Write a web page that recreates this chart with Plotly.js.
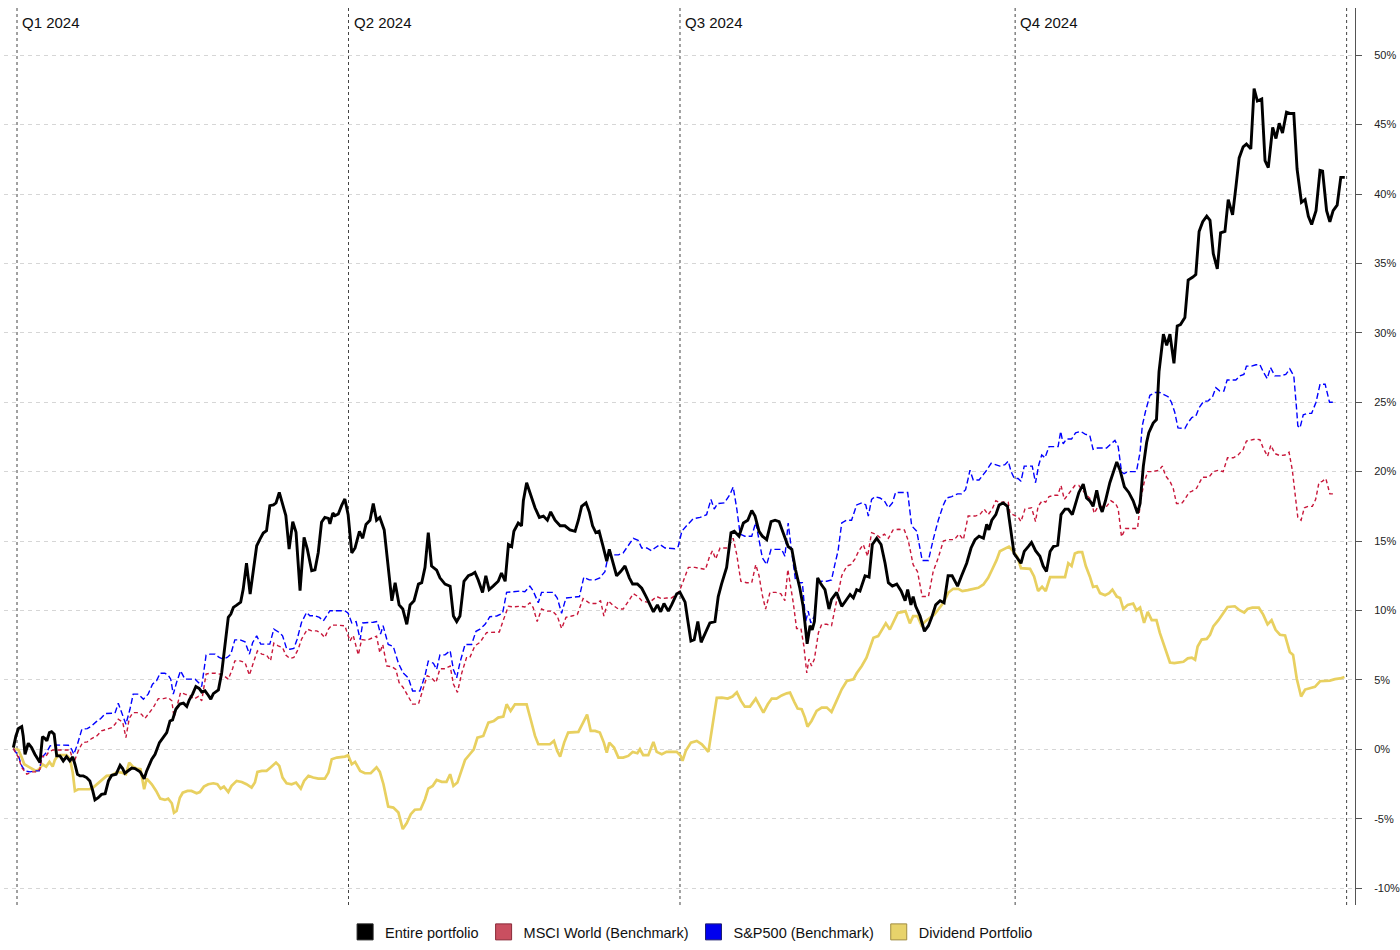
<!DOCTYPE html>
<html>
<head>
<meta charset="utf-8">
<script src="https://cdn.plot.ly/plotly-3.0.1.min.js"></script>
<style>
html,body{margin:0;padding:0;background:#fff;}
#chart{width:1400px;height:950px;}
</style>
</head>
<body>
<div id="chart"></div>
<script>
// Day offsets from 2024-01-01 (fractional days), values in percent
const seriesNames = ["Entire portfolio", "MSCI World (Benchmark)", "S&P500 (Benchmark)", "Dividend Portfolio"];

const blackDays = [-1.0,-0.3,0.4,1.3,1.7,2.2,3.1,4.0,4.9,5.9,6.3,7.0,7.7,8.2,8.9,9.5,10.2,10.9,11.8,12.7,13.6,14.5,15.3,15.9,16.6,17.3,18.2,19.1,20.0,20.8,21.4,22.3,23.2,24.2,25.1,26.0,27.2,28.3,29.0,29.6,30.6,31.5,32.4,33.8,34.9,35.6,37.0,37.9,39.1,40.2,41.1,42.0,42.7,43.6,44.7,45.7,46.6,47.3,48.2,49.1,50.0,50.7,51.6,52.5,53.2,53.9,55.3,56.2,57.1,58.0,58.7,59.4,60.3,61.4,62.1,63.0,64.0,64.9,65.8,66.7,67.6,68.5,69.4,70.4,71.1,72.0,72.9,73.8,74.7,75.7,76.6,77.7,78.8,79.7,80.9,81.8,82.7,83.6,84.5,85.5,85.9,86.7,87.3,88.2,89.1,90.0,
90.9,91.9,92.8,94.0,94.9,95.8,96.9,97.8,98.7,99.6,100.8,101.9,102.9,103.8,104.9,105.9,107.0,107.9,109.0,110.2,111.1,112.0,112.9,113.8,115.2,116.1,117.5,118.9,119.8,120.7,121.6,122.7,123.9,124.8,125.7,126.6,127.8,128.7,129.6,130.7,132.1,133.0,134.0,134.9,135.8,136.4,137.6,138.5,139.0,139.9,141.0,142.2,143.4,144.5,145.6,146.5,147.7,149.1,150.4,151.8,153.2,154.1,155.0,156.2,157.1,158.0,158.9,159.8,160.9,161.9,162.6,163.5,164.6,165.7,166.9,168.1,169.0,170.3,171.5,172.7,173.6,174.7,175.8,176.7,177.6,178.8,179.7,181.1,182.0,183.4,
184.1,185.0,185.9,186.9,187.8,188.9,190.2,191.6,192.5,193.4,194.8,196.0,196.9,198.2,199.4,200.6,201.7,202.6,203.7,204.6,205.8,207.0,208.1,209.2,210.3,211.7,212.7,213.7,214.9,215.8,216.3,216.9,217.7,218.3,218.9,219.8,220.7,221.8,222.9,223.6,225.0,226.4,227.5,228.7,229.6,230.5,231.4,232.8,233.9,234.8,236.0,237.2,238.3,239.2,240.3,241.5,242.7,243.8,244.5,245.4,246.0,246.7,247.9,249.1,250.2,251.1,252.2,253.4,254.5,255.6,256.7,258.2,259.3,260.7,261.9,263.0,264.1,265.3,266.2,266.8,267.6,268.7,269.6,270.7,271.9,273.0,273.7,
275.6,276.5,277.6,278.5,279.6,280.8,281.7,282.6,283.6,284.5,285.7,286.6,287.7,288.6,289.7,290.6,291.5,292.7,293.6,294.5,295.4,296.4,297.3,297.9,298.8,300.0,300.9,301.9,302.8,304.0,305.2,306.4,307.6,308.3,309.2,310.1,310.7,311.9,312.8,
313.5,314.7,315.6,316.5,317.6,318.5,319.4,320.6,321.5,322.7,323.6,324.5,325.5,326.6,327.5,328.4,329.5,330.4,331.6,332.5,333.7,334.6,335.5,336.6,337.5,338.7,339.6,340.5,341.7,342.6,343.5,344.7,345.6,346.5,347.4,348.5,349.6,350.5,351.4,352.6,353.6,354.5,355.4,356.6,357.7,358.4,359.5,360.4,361.3,362.4,363.4,364.5];
const blackVals = [0.12,0.96,1.49,1.63,0.96,-0.36,0.43,0.12,-0.36,-0.84,-0.96,0.91,0.77,0.6,1.2,1.27,1.08,-0.48,-0.48,-0.84,-0.53,-0.84,-0.55,-1.08,-1.8,-1.92,-1.92,-2.04,-2.28,-3.0,-3.65,-3.49,-3.25,-3.2,-2.28,-1.88,-1.8,-1.15,-1.39,-1.73,-1.56,-1.35,-1.39,-1.63,-2.12,-1.56,-0.72,-0.36,0.48,0.91,1.2,2.04,2.12,2.88,3.25,3.32,3.08,3.56,3.97,4.52,4.38,4.13,4.21,3.89,3.61,4.01,4.28,5.53,7.33,9.5,9.74,10.22,10.38,10.6,11.54,13.41,11.18,12.74,14.66,15.14,15.58,15.75,17.55,17.6,17.74,18.5,17.67,16.83,14.42,16.39,15.63,11.42,15.26,14.42,12.86,12.93,14.18,16.35,16.7,16.63,16.23,17.02,16.83,16.95,17.55,18.03,
16.9,14.15,14.5,15.7,15.2,16.2,16.5,17.7,16.5,16.7,15.8,12.9,10.7,12.0,10.4,10.1,9.0,10.4,10.7,11.9,12.0,13.1,15.6,13.2,12.9,12.35,11.9,11.75,9.6,9.2,9.6,12.1,12.5,12.6,12.75,12.2,11.3,12.5,11.5,11.75,12.1,12.7,12.1,14.75,14.6,15.7,16.3,16.1,17.9,19.2,18.3,17.4,16.7,16.8,16.5,17.1,16.5,16.1,16.1,15.8,15.7,16.5,17.5,17.75,17.1,16.1,15.6,15.7,14.6,13.55,14.4,13.55,12.5,12.8,13.2,12.35,11.9,11.9,11.6,11.0,10.55,9.9,10.4,9.9,10.5,9.95,10.4,11.2,11.3,10.6,
9.35,7.8,7.9,9.2,7.7,8.4,9.1,9.2,11.0,11.9,13.1,15.6,15.7,15.35,16.3,16.5,17.2,16.8,15.7,15.35,15.1,16.4,16.5,16.4,15.6,14.6,14.4,12.95,11.6,10.3,9.1,7.6,8.9,8.6,9.2,12.35,11.9,11.5,10.1,10.8,11.3,10.3,10.7,11.15,10.9,11.5,11.4,12.5,12.4,14.75,15.2,14.75,13.4,12.0,11.75,11.9,11.4,10.7,11.5,10.4,11.0,10.3,9.6,8.5,8.9,9.5,10.4,10.7,10.55,12.5,12.5,11.75,12.5,13.4,14.5,15.1,15.35,15.2,16.2,15.8,16.5,16.9,17.6,17.75,17.5,15.35,14.1,
13.4,14.25,14.6,14.9,14.3,13.9,13.2,12.8,14.25,14.6,14.7,16.9,17.3,17.3,16.9,17.7,18.5,19.1,18.1,17.9,17.5,18.65,17.5,17.1,17.9,19.2,20.0,20.7,20.1,18.9,18.5,17.9,17.0,17.7,20.4,22.1,22.8,23.5,23.75,
27.2,29.9,29.1,29.9,27.8,30.5,30.6,31.1,33.8,34.0,34.2,37.3,38.0,38.4,38.1,35.7,34.6,37.2,37.3,39.6,38.5,40.5,42.6,43.4,43.6,43.25,47.6,46.7,46.85,42.4,41.9,44.8,44.0,45.1,44.4,45.9,45.8,45.8,41.8,39.4,39.6,38.4,37.8,38.8,41.7,41.65,38.8,38.0,38.8,39.2,41.2,41.2];

const msciDays = [-1.0,0.4,1.3,2.7,4.0,5.4,6.3,6.8,7.7,8.6,9.8,11.3,13.2,14.5,15.6,16.8,18.0,19.3,20.5,21.9,23.2,24.6,26.0,26.9,27.8,29.0,29.9,30.8,31.8,33.0,34.2,35.1,36.3,37.4,38.8,40.2,41.5,42.5,43.1,44.0,44.9,46.1,47.5,48.6,49.8,50.7,51.9,53.0,54.4,55.7,56.8,58.0,59.2,59.8,61.2,62.6,63.8,64.9,66.0,67.2,68.5,69.6,70.5,71.7,72.9,73.8,74.9,76.0,77.2,78.1,79.7,80.9,82.3,83.4,84.5,85.5,86.4,88.2,90.0,
91.4,92.3,93.7,94.6,96.0,97.4,98.7,99.6,100.4,101.5,102.9,104.0,104.9,106.0,107.4,108.6,110.2,111.4,112.6,113.8,115.0,116.1,117.5,118.9,119.8,120.9,122.1,123.4,124.3,125.7,127.1,128.9,130.7,132.4,133.5,134.9,136.2,138.1,139.4,140.8,141.7,142.8,144.0,145.4,147.0,148.3,149.5,150.7,152.3,153.8,155.4,157.3,158.9,160.2,161.1,162.3,163.7,165.1,166.4,167.8,169.2,170.5,171.5,172.9,174.2,175.6,177.0,178.3,179.7,181.1,182.0,182.9,184.3,186.1,187.5,189.0,190.0,190.9,191.8,193.0,194.8,196.0,196.6,197.6,198.7,200.3,201.7,202.8,203.7,204.6,205.5,206.7,208.3,209.7,210.8,211.6,212.2,213.1,214.0,215.2,216.0,216.8,217.4,218.1,218.9,220.0,220.9,222.3,223.6,225.0,226.4,227.8,228.9,230.0,231.1,232.3,233.5,234.6,235.7,236.9,238.1,239.2,240.5,242.1,243.6,244.7,246.0,247.2,248.5,250.2,251.5,252.9,254.3,255.6,257.3,258.6,259.8,261.1,263.0,264.3,265.5,266.6,267.7,268.7,269.6,270.7,272.1,272.6,273.5,274.9,275.6,276.7,278.5,279.6,280.3,281.4,282.4,283.3,284.7,285.7,286.6,287.5,288.4,289.5,290.4,291.5,292.4,293.6,294.8,295.7,296.8,299.1,300.3,301.6,302.3,303.2,304.3,306.7,307.6,308.5,309.4,310.4,311.8,313.5,314.4,315.3,316.5,317.4,318.3,319.7,320.6,321.7,322.6,323.8,325.4,327.2,328.4,329.8,331.1,332.3,333.9,335.2,336.6,337.5,338.9,340.0,341.2,342.1,343.3,344.2,345.3,346.7,348.1,349.2,350.1,350.8,351.6,352.5,353.4,354.5,355.6,356.5,357.4,358.3,359.3,360.4,361.6];
const msciVals = [0.05,-0.6,-1.32,-1.8,-1.63,-1.63,-1.44,-0.48,-0.6,-0.24,-0.05,-0.05,-0.05,-0.05,-0.96,-0.12,0.48,0.53,0.77,0.96,1.32,1.44,1.56,1.8,2.16,1.97,0.84,2.21,2.64,2.64,2.52,2.21,2.64,3.0,3.65,3.65,3.73,3.49,2.28,3.13,4.09,3.97,3.85,3.61,3.8,3.49,5.41,5.48,5.48,5.41,5.29,5.05,5.82,6.37,6.37,6.25,5.34,6.25,7.09,6.85,6.78,6.37,7.64,7.45,7.33,6.78,6.54,6.61,7.21,7.93,8.65,8.53,8.53,8.37,8.05,8.65,8.94,8.94,8.89,
7.8,8.2,6.8,7.9,7.85,8.0,8.15,6.95,7.55,6.0,5.95,5.75,4.8,4.45,3.85,3.25,3.25,4.2,5.3,5.15,4.8,5.8,5.8,6.0,4.7,4.1,5.5,6.6,6.6,7.45,7.7,8.4,8.45,8.45,9.3,10.3,10.25,10.3,10.25,10.55,10.2,9.2,10.1,9.95,9.95,9.6,8.7,9.5,9.6,9.7,10.85,10.5,10.5,10.7,9.6,10.7,10.35,10.1,10.1,10.7,11.2,11.0,10.7,10.6,10.7,11.0,10.85,10.9,10.9,11.15,11.5,12.1,13.1,13.1,13.05,12.95,13.8,14.3,13.7,14.5,14.5,14.9,15.2,14.0,12.1,12.0,12.0,13.3,12.5,11.1,10.1,11.3,11.3,11.2,10.7,12.95,12.0,10.55,8.7,8.7,7.45,5.5,6.5,6.0,6.5,8.4,9.0,9.0,8.9,10.7,12.5,13.2,13.3,13.7,14.3,14.75,13.9,15.6,15.5,15.25,15.5,15.2,15.8,15.85,15.8,15.0,13.3,12.8,11.0,11.0,12.8,13.8,15.0,15.1,15.1,15.5,15.1,16.8,16.8,16.9,17.3,16.9,17.3,17.9,17.8,17.8,17.8,17.0,16.9,16.7,16.4,17.3,17.4,16.4,17.5,17.9,17.8,18.2,18.3,18.3,19.0,18.0,18.3,18.7,19.0,19.0,18.7,18.3,18.0,17.0,17.5,17.5,17.9,17.7,17.3,15.3,15.9,15.9,15.9,18.0,19.2,20.0,20.0,20.1,20.4,19.7,19.3,18.8,17.7,17.7,18.0,18.5,18.6,18.8,19.6,19.6,20.0,20.1,20.0,21.0,21.0,21.2,21.6,22.2,22.3,22.35,22.3,21.7,21.1,21.9,21.3,21.15,21.2,21.4,20.1,18.5,16.7,16.5,17.4,17.5,17.5,18.0,19.2,19.3,19.5,18.4,18.4];

const spDays = [-1.0,0.4,1.3,2.2,3.6,4.9,6.1,6.8,8.2,9.1,10.0,11.3,12.7,14.1,15.0,15.6,16.6,17.8,19.3,20.5,21.7,23.0,24.2,25.5,26.9,27.8,28.7,29.9,31.0,31.9,33.3,34.7,36.0,37.2,38.3,39.3,40.6,41.5,42.2,42.9,43.8,44.9,46.1,47.5,48.9,50.0,50.7,51.9,53.0,54.4,55.5,56.6,57.7,58.7,59.8,61.2,62.6,63.8,64.7,65.8,66.9,68.1,69.4,70.5,72.0,72.9,74.0,74.9,76.0,76.9,78.1,79.5,80.4,81.8,83.0,84.1,85.0,85.9,87.8,90.0,
90.9,91.9,93.1,94.2,94.9,96.4,97.8,98.9,99.8,100.5,101.9,103.3,104.7,106.0,107.4,108.6,110.6,112.0,112.9,114.3,115.2,116.1,117.5,118.9,119.8,120.7,121.6,123.0,124.8,126.0,127.1,128.5,129.8,131.7,133.3,134.4,135.8,138.1,139.4,140.8,141.7,143.1,144.0,145.8,147.2,148.3,149.5,150.7,152.3,154.4,155.6,157.1,158.7,160.0,161.4,162.3,163.5,165.1,166.4,167.8,169.2,170.5,171.5,172.9,174.2,175.1,176.5,177.9,179.2,180.6,181.5,182.5,183.8,185.6,187.5,189.3,190.5,191.4,192.3,194.2,195.7,196.6,197.6,198.5,199.8,201.7,202.8,203.5,204.6,205.8,207.0,208.3,209.9,210.8,211.7,212.7,213.7,214.7,215.6,216.5,217.2,217.9,218.9,219.8,220.9,222.3,223.6,224.5,225.4,226.4,227.7,229.1,230.5,231.9,233.0,233.7,234.6,235.5,236.9,238.1,239.2,240.3,241.2,242.9,244.5,245.6,247.0,248.5,250.2,251.5,252.9,254.3,255.2,256.6,258.2,259.3,260.4,261.1,261.6,262.5,264.1,265.3,266.2,267.4,269.8,271.2,272.1,272.9,273.8,274.8,275.6,276.5,277.6,278.7,279.6,280.5,281.3,282.2,283.3,284.9,285.8,286.5,287.2,288.1,289.5,290.6,292.0,293.2,294.5,295.4,296.6,299.1,300.3,301.4,302.3,303.2,303.9,305.0,307.3,308.3,308.9,309.8,311.0,312.4,313.7,314.8,316.0,316.9,317.8,318.7,320.6,321.4,322.5,323.6,324.5,325.7,327.0,328.2,329.1,330.2,331.3,332.2,334.6,335.7,336.8,337.5,338.9,340.1,341.2,342.1,343.2,344.1,345.3,346.7,348.3,349.4,350.5,351.3,351.6,352.2,353.1,354.3,355.4,356.6,357.7,359.1,360.3,361.3];
const spVals = [0.05,-0.48,-1.2,-1.56,-1.63,-1.56,-1.56,-0.6,-0.19,0.24,0.31,0.31,0.31,0.29,0,-0.36,0.36,1.44,1.49,1.68,1.97,2.21,2.57,2.6,2.6,3.32,2.64,1.8,2.88,3.97,3.97,3.61,3.97,4.69,4.93,5.48,5.48,5.34,5.05,3.97,4.81,5.65,5.05,5.05,5.05,4.76,4.52,6.78,6.85,6.85,6.61,6.49,6.61,6.85,7.88,7.88,7.74,6.85,7.69,8.17,7.57,7.57,7.57,8.65,8.41,8.17,7.26,7.21,7.26,7.93,9.13,9.86,9.62,9.62,9.5,9.25,9.62,9.98,9.98,9.98,
9.8,9.1,9.2,7.9,9.1,9.1,9.15,9.2,8.3,8.9,7.55,7.4,6.2,5.5,5.15,4.2,4.2,5.3,6.35,6.2,5.75,6.8,6.8,7.1,5.75,5.15,6.25,7.55,7.55,8.5,8.65,9.0,9.55,9.6,9.8,11.3,11.35,11.4,11.35,11.75,11.4,10.55,11.3,11.3,11.3,10.9,9.8,10.9,10.95,11.0,12.4,12.2,12.2,12.35,12.8,13.95,14.0,14.0,14.15,14.7,15.2,15.05,14.5,14.5,14.3,14.5,14.75,14.5,14.45,14.45,14.6,15.7,16.1,16.6,16.7,16.9,18.0,17.3,17.7,17.75,18.35,18.9,17.3,15.5,15.35,15.35,16.35,15.35,13.8,13.3,14.4,14.4,14.4,13.9,16.3,14.15,12.2,12.0,12.0,9.2,9.95,9.1,9.6,12.0,12.1,12.1,12.2,13.3,14.3,16.3,16.5,16.5,17.6,17.75,17.6,16.8,18.0,18.2,18.1,17.9,17.4,17.75,18.5,18.5,18.5,16.1,15.7,13.6,13.6,15.1,16.5,17.6,18.1,18.2,18.4,18.4,18.7,19.5,20.1,19.4,19.4,19.8,20.1,20.6,20.4,20.5,20.75,20.0,19.5,19.5,19.3,20.4,20.4,20.4,19.2,20.5,21.2,21.0,21.8,21.8,21.8,22.9,22.0,22.35,22.35,22.8,22.9,22.7,22.6,21.6,21.7,21.7,22.0,22.25,21.8,20.0,19.85,20.0,20.0,21.4,23.3,24.35,25.5,25.7,25.7,25.55,25.4,25.0,24.3,23.15,23.1,23.5,23.9,24.0,24.6,25.05,25.1,25.4,26.05,25.8,25.8,26.6,26.6,26.9,27.0,27.6,27.6,27.7,27.7,27.2,26.7,27.5,26.9,26.9,27.0,27.4,26.9,24.4,23.3,23.15,24.1,24.2,24.2,25.0,26.3,26.3,25.0,25.0];

const divDays = [-1.0,0.4,1.3,2.0,3.1,4.0,5.2,6.1,7.0,8.0,8.9,9.8,10.4,11.3,12.5,13.6,14.5,15.3,15.9,16.8,18.2,19.9,20.9,21.9,23.2,24.6,26.0,27.5,28.7,29.9,30.8,31.8,32.8,33.9,34.9,35.6,37.0,38.2,39.3,40.6,41.5,42.5,43.1,43.8,44.7,45.5,46.8,47.9,49.3,50.2,51.3,52.5,53.9,55.0,55.9,56.8,58.0,58.9,60.3,61.7,63.0,64.4,65.3,66.0,67.2,68.5,69.6,71.1,72.0,72.9,74.0,75.4,76.6,77.9,78.8,80.0,81.3,82.7,84.5,85.5,86.4,87.8,90.0,
90.9,91.9,92.8,94.2,95.5,97.1,98.7,99.6,100.6,101.9,103.3,104.7,105.9,107.0,108.1,109.2,110.8,112.0,112.9,114.1,115.2,116.6,117.9,118.9,119.8,120.9,121.8,123.0,124.3,125.4,126.4,128.0,129.4,130.9,132.1,133.5,134.4,135.5,136.7,138.5,139.9,141.0,142.2,143.1,144.5,146.3,147.4,148.3,149.1,150.2,151.3,152.7,154.1,155.4,156.5,157.5,158.7,160.0,161.1,161.9,162.6,163.9,165.1,166.4,167.8,169.0,170.3,171.0,171.9,173.3,174.2,174.7,175.6,177.0,178.3,180.0,181.1,182.2,182.7,183.6,185.0,186.6,188.0,189.8,190.9,192.1,193.5,195.1,196.4,197.6,198.7,199.8,201.2,202.8,204.0,204.9,206.1,207.2,208.5,209.9,211.3,212.2,213.4,214.3,215.4,216.3,217.0,218.1,219.5,220.9,222.3,223.6,225.0,226.4,227.8,229.6,230.5,231.9,233.2,234.1,235.1,236.4,237.5,238.5,239.6,240.8,241.8,242.9,243.9,245.1,246.0,247.2,248.3,249.4,250.6,251.8,252.9,254.3,255.6,257.0,258.4,259.5,261.0,262.5,263.9,265.3,266.6,267.7,268.9,269.8,271.2,272.3,273.5,274.7,275.6,276.7,278.1,279.2,280.3,281.4,282.4,283.6,284.9,286.6,287.7,288.6,289.5,290.4,291.3,292.4,293.4,294.5,295.4,296.4,297.3,298.7,299.8,300.7,301.9,302.8,303.7,304.9,306.4,307.3,308.3,309.4,310.4,311.5,312.8,313.7,315.1,316.5,317.7,318.8,320.2,321.4,322.5,323.4,324.1,325.2,326.6,327.5,328.4,329.8,331.1,332.3,334.3,335.7,336.9,337.8,339.1,340.9,342.1,343.3,344.4,345.5,346.7,348.1,349.4,350.3,351.3,352.5,353.6,354.9,356.3,357.7,359.1,360.4,361.8,363.2,364.4];
const divVals = [0.05,-0.05,-0.6,-1.08,-1.25,-1.39,-1.56,-1.44,-1.08,-1.25,-0.91,-1.25,-0.77,-0.43,-0.43,-0.43,-0.67,-1.68,-3.0,-2.88,-2.88,-2.88,-2.76,-2.52,-2.21,-1.92,-1.88,-1.63,-1.68,-1.8,-0.96,-1.25,-1.39,-1.44,-2.88,-2.12,-2.52,-3.0,-3.56,-3.65,-3.56,-3.89,-4.57,-4.45,-3.49,-3.13,-3.0,-3.0,-3.17,-3.08,-2.69,-2.52,-2.45,-2.52,-2.84,-2.69,-3.08,-2.64,-2.28,-2.36,-2.52,-2.76,-2.4,-1.63,-1.56,-1.56,-1.32,-0.96,-1.2,-2.04,-2.45,-2.52,-2.4,-2.84,-2.28,-1.92,-2.04,-2.12,-2.12,-1.68,-0.72,-0.6,-0.53,
-0.43,-1.08,-0.91,-1.56,-1.73,-1.73,-1.3,-1.63,-2.52,-4.13,-4.2,-4.56,-5.75,-5.32,-4.68,-4.36,-4.32,-3.6,-2.83,-2.64,-2.21,-2.35,-2.35,-1.8,-2.64,-2.4,-1.68,-0.77,-0.36,0,0.84,0.96,1.92,2.04,2.28,2.35,3.24,2.76,3.24,3.24,3.24,2.16,0.96,0.36,0.36,0.36,0.6,-0.12,-0.53,0.48,1.2,1.2,1.25,1.92,2.5,1.32,1.32,1.2,0.48,-0.24,0.48,0.12,-0.6,-0.6,-0.48,-0.19,-0.29,0,-0.43,-0.43,0.12,0.53,-0.19,-0.36,-0.19,-0.19,-0.19,-0.48,-0.84,-0.12,0.48,0.6,0.36,-0.19,1.8,3.7,3.72,3.65,3.8,4.1,3.5,3.07,3.07,3.65,3.07,2.64,3.24,3.65,3.65,3.88,4.03,4.08,3.4,2.93,2.88,2.28,1.63,2.04,2.76,3.0,3.0,2.69,3.5,4.32,4.92,5.04,5.47,6.0,6.6,7.31,8.03,8.15,8.63,9.07,8.63,9.23,9.83,9.88,9.95,9.07,9.59,9.59,8.92,9.23,9.47,9.71,10.07,10.55,11.27,11.56,11.56,11.39,11.46,11.56,11.63,11.87,12.35,12.95,13.62,14.27,14.44,14.6,14.25,13.8,13.05,13.05,13.0,12.45,11.4,11.7,11.4,12.4,12.4,12.45,12.4,13.4,13.2,14.1,14.2,14.2,13.2,12.45,11.7,11.75,11.25,11.1,11.25,11.5,11.0,10.9,10.1,10.4,10.5,10.0,10.2,9.1,9.9,9.3,9.3,8.4,7.4,6.25,6.2,6.25,6.3,6.55,6.6,6.45,7.4,7.9,7.95,8.25,8.85,9.3,9.75,10.25,10.3,10.0,9.85,10.1,10.2,10.2,9.7,9.0,9.3,8.6,8.25,8.2,7.0,6.8,5.1,3.8,4.3,4.4,4.5,4.9,4.9,4.95,5.05,5.1,5.2];

const quarterDates = ["2024-01-01", "2024-04-01", "2024-07-01", "2024-10-01"];
const quarterLabels = ["Q1 2024", "Q2 2024", "Q3 2024", "Q4 2024"];
const endDate = "2024-12-31";
const yTicks = [-10, -5, 0, 5, 10, 15, 20, 25, 30, 35, 40, 45, 50];

const BASE = Date.UTC(2024, 0, 1);
function toDate(d) {
  return new Date(BASE + d * 86400000).toISOString().slice(0, 19).replace('T', ' ');
}

const FONT = 'Arial, "Liberation Sans", Helvetica, sans-serif';
const colors = {black: '#000000', red: '#c8173a', blue: '#0000ff', yellow: '#e8d060'};

const traces = [
  {x: divDays.map(toDate), y: divVals, type: 'scatter', mode: 'lines', name: seriesNames[3], showlegend: false,
   line: {color: colors.yellow, width: 2.7}, hoverinfo: 'skip'},
  {x: spDays.map(toDate), y: spVals, type: 'scatter', mode: 'lines', name: seriesNames[2], showlegend: false,
   line: {color: colors.blue, width: 1.4, dash: '6px,3px'}, hoverinfo: 'skip'},
  {x: msciDays.map(toDate), y: msciVals, type: 'scatter', mode: 'lines', name: seriesNames[1], showlegend: false,
   line: {color: colors.red, width: 1.4, dash: '4px,3px'}, hoverinfo: 'skip'},
  {x: blackDays.map(toDate), y: blackVals, type: 'scatter', mode: 'lines', name: seriesNames[0], showlegend: false,
   line: {color: colors.black, width: 2.9}, hoverinfo: 'skip'},
  // legend entries (square swatches)
  {x: [null], y: [null], type: 'scatter', mode: 'markers', name: seriesNames[0],
   marker: {symbol: 'square', size: 16, color: '#000000', line: {color: '#222', width: 1}}},
  {x: [null], y: [null], type: 'scatter', mode: 'markers', name: seriesNames[1],
   marker: {symbol: 'square', size: 16, color: '#c94f60', line: {color: '#8a2a38', width: 1}}},
  {x: [null], y: [null], type: 'scatter', mode: 'markers', name: seriesNames[2],
   marker: {symbol: 'square', size: 16, color: '#0000ee', line: {color: '#202070', width: 1}}},
  {x: [null], y: [null], type: 'scatter', mode: 'markers', name: seriesNames[3],
   marker: {symbol: 'square', size: 16, color: '#e8d36b', line: {color: '#a08c40', width: 1}}}
];

const shapes = quarterDates.concat([endDate]).map(d => ({
  type: 'line', xref: 'x', yref: 'paper', x0: d, x1: d, y0: 0, y1: 1,
  line: {color: '#444', width: 1, dash: '3px,3px'}, layer: 'below'
}));

const annotations = quarterDates.map((d, i) => ({
  x: d, xref: 'x', y: 1, yref: 'paper', text: quarterLabels[i], showarrow: false,
  xanchor: 'left', yanchor: 'top', xshift: 3, yshift: -4,
  font: {family: FONT, size: 15, color: '#111'}
}));

const layout = {
  width: 1400, height: 950,
  margin: {l: 4, r: 45, t: 8, b: 45, autoexpand: false},
  paper_bgcolor: '#ffffff', plot_bgcolor: '#ffffff',
  font: {family: FONT, color: '#111'},
  showlegend: true,
  legend: {orientation: 'h', xref: 'container', yref: 'container', x: 0.494, xanchor: 'center', y: 0.019, yanchor: 'middle',
           font: {family: FONT, size: 14.5, color: '#111'}, bgcolor: 'rgba(0,0,0,0)', itemclick: false, itemdoubleclick: false},
  xaxis: {type: 'date', range: [toDate(-3.57), toDate(367.3)], showgrid: false, zeroline: false,
          showline: false, showticklabels: false, ticks: '', fixedrange: true},
  yaxis: {side: 'right', range: [-11.22, 53.4], tickmode: 'array', tickvals: yTicks,
          ticktext: yTicks.map(v => v + '%'), showline: true, linecolor: '#555', linewidth: 1,
          ticks: 'outside', ticklen: 6, tickcolor: '#555', tickwidth: 1,
          showgrid: true, gridcolor: '#d6d6d6', gridwidth: 1, griddash: '4px,4px',
          zeroline: false, tickfont: {family: FONT, size: 11, color: '#222'},
          ticklabelstandoff: 10, fixedrange: true, automargin: false},
  shapes: shapes,
  annotations: annotations
};

Plotly.newPlot('chart', traces, layout, {displayModeBar: false, staticPlot: true});
</script>
</body>
</html>
